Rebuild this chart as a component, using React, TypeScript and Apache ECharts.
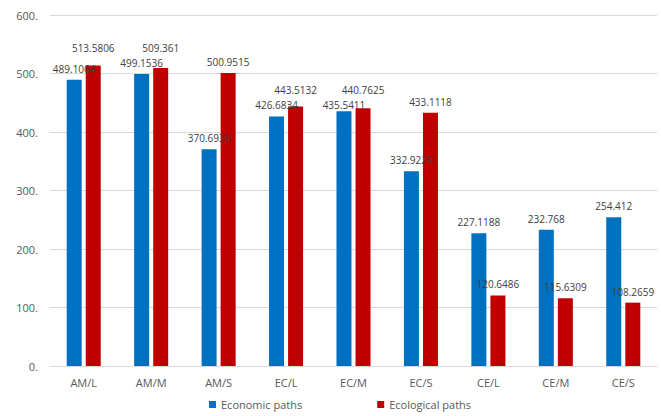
import React, { useEffect, useRef } from "react";
import * as echarts from "echarts";

const categories = ["AM/L", "AM/M", "AM/S", "EC/L", "EC/M", "EC/S", "CE/L", "CE/M", "CE/S"];
const economic = [489.1064, 499.1536, 370.6936, 426.6834, 435.5411, 332.9229, 227.1188, 232.768, 254.412];
const ecological = [513.5806, 509.361, 500.9515, 443.5132, 440.7625, 433.1118, 120.6486, 115.6309, 108.2659];
const economicLabelShift = [0, 0, 0, 0, 5, 0, 0, 0, 0];
const ecologicalLabelLift = [7, 9, 0, 6, 7, 0, 0, 0, 0];

export default function App() {
  const ref = useRef<HTMLDivElement>(null);
  useEffect(() => {
    const chart = echarts.init(ref.current!, null, { renderer: "svg" });
    const font = "'Open Sans', sans-serif";
    chart.setOption({
      animation: false,
      textStyle: { fontFamily: font },
      grid: { left: 50, right: 4, top: 15, bottom: 50, containLabel: false },
      legend: {
        bottom: 1,
        left: 204,
        itemWidth: 7,
        itemHeight: 7,
        itemGap: 75,
        icon: "rect",
        textStyle: { color: "#595959", fontSize: 11, fontFamily: font },
        data: ["Economic paths", "Ecological paths"],
      },
      xAxis: {
        type: "category",
        data: categories,
        axisLine: { lineStyle: { color: "#d9d9d9", width: 1 } },
        axisTick: { show: false },
        axisLabel: { color: "#595959", fontSize: 11, margin: 11, fontFamily: font },
      },
      yAxis: {
        type: "value",
        min: 0,
        max: 600,
        interval: 100,
        axisLine: { show: false },
        axisTick: { show: false },
        splitLine: { lineStyle: { color: "#d9d9d9", width: 1 } },
        axisLabel: {
          color: "#595959",
          fontSize: 11,
          margin: 12,
          fontFamily: font,
          formatter: (v: number) => `${v}.`,
        },
      },
      series: [
        {
          name: "Economic paths",
          type: "bar",
          data: economic.map((v, i) => ({
            value: v,
            label: { offset: [0, economicLabelShift[i]] },
          })),
          barWidth: 15,
          barGap: "27%",
          itemStyle: { color: "#0070c0" },
          label: {
            show: true,
            position: "top",
            distance: 6,
            color: "#404040",
            fontSize: 10,
            fontFamily: font,
          },
        },
        {
          name: "Ecological paths",
          type: "bar",
          data: ecological.map((v, i) => ({
            value: v,
            label: { offset: [0, -ecologicalLabelLift[i]] },
          })),
          barWidth: 15,
          itemStyle: { color: "#c00000" },
          label: {
            show: true,
            position: "top",
            distance: 6,
            color: "#404040",
            fontSize: 10,
            fontFamily: font,
          },
        },
      ],
    });
    return () => chart.dispose();
  }, []);
  return (
    <div
      ref={ref}
      style={{ position: "fixed", left: 0, top: 0, width: 661, height: 416, background: "#fff" }}
    />
  );
}
